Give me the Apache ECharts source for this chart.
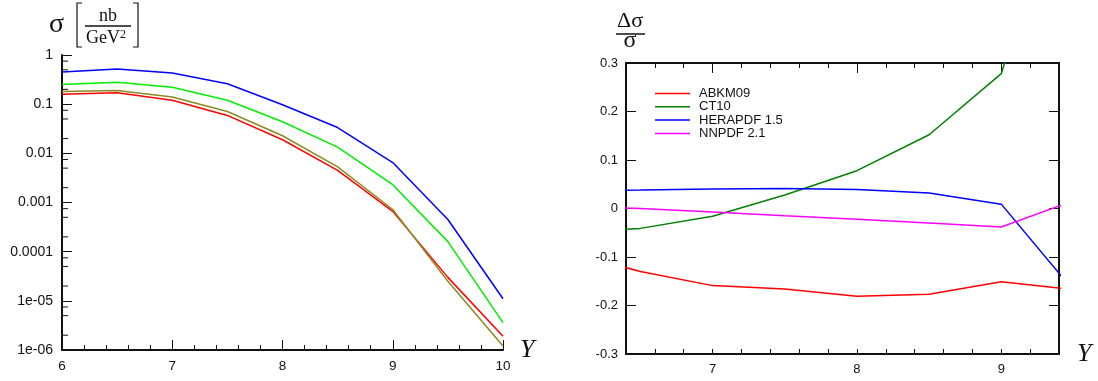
<!DOCTYPE html>
<html>
<head>
<meta charset="utf-8">
<script src="https://cdn.jsdelivr.net/npm/echarts@6/dist/echarts.min.js"></script>
<style>
  html, body { margin: 0; padding: 0; background: #fff; }
  #chart { width: 1098px; height: 381px; }
</style>
</head>
<body>
<div id="chart"></div>
<script>
// left panel: cross section vs rapidity (log scale)
const rapidity = [6, 6.5, 7, 7.5, 8, 8.5, 9, 9.5, 10];
const sigmaBlue = [0.45, 0.52, 0.43, 0.26, 0.097, 0.0335, 0.0065, 0.00045, 1.1e-5];
const sigmaGreen = [0.25, 0.28, 0.22, 0.12, 0.044, 0.0134, 0.0023, 0.00016, 3.6e-6];
const sigmaOlive = [0.18, 0.19, 0.14, 0.071, 0.0228, 0.0053, 0.00072, 2.5e-5, 1.2e-6];
const sigmaRed = [0.16, 0.17, 0.12, 0.059, 0.0189, 0.0045, 0.00066, 3.0e-5, 1.9e-6];
const logLabels = ["1", "0.1", "0.01", "0.001", "0.0001", "1e-05", "1e-06"];
const logMinorSteps = [2, 5, 7.5];

// right panel: relative deviation
const ratioRapidity = [6, 6.5, 7, 7.5, 8, 8.5, 9, 9.5];
const ratioABKM = [-0.09, -0.130, -0.159, -0.166, -0.181, -0.177, -0.151, -0.167];
const ratioCT10 = [-0.05, -0.041, -0.016, 0.028, 0.078, 0.152, 0.278, 0.75];
const ratioHERA = [0.037, 0.038, 0.040, 0.041, 0.039, 0.032, 0.009, -0.169];
const ratioNNPDF = [0.004, 0.000, -0.007, -0.015, -0.022, -0.030, -0.038, 0.016];
const ratioNames = ["ABKM09", "CT10", "HERAPDF 1.5", "NNPDF 2.1"];
const majorRatioTicks = [7, 8, 9];

const font = "Liberation Sans";
const serif = "Liberation Serif";
const ink = "#111";

const zip = (xs, ys) => xs.map((x, i) => [x, ys[i]]);

const logMinorTicks = [];
for (let e = -6; e < 0; e++) {
  logMinorSteps.forEach((m) => logMinorTicks.push([6, m * Math.pow(10, e)]));
}

const axisLine = { show: true, onZero: false, lineStyle: { color: ink, width: 2 } };
const noLine = { show: false, onZero: false };

const lineSeries = (name, xs, ys, color, xi, yi) => ({
  name,
  type: "line",
  xAxisIndex: xi,
  yAxisIndex: yi,
  data: zip(xs, ys),
  showSymbol: false,
  lineStyle: { color, width: 1.5 },
  itemStyle: { color },
  z: 3,
});

const chart = echarts.init(document.getElementById("chart"));

chart.setOption({
  animation: false,
  backgroundColor: "#fff",
  grid: [
    { left: 62, top: 55, width: 441, height: 295 },
    { left: 626, top: 63, width: 433, height: 291 },
  ],
  xAxis: [
    {
      gridIndex: 0,
      type: "value",
      min: 6,
      max: 10,
      interval: 1,
      axisLine,
      axisTick: { inside: true, length: 10, lineStyle: { color: ink, width: 1 } },
      minorTick: { show: true, splitNumber: 5, length: 5, lineStyle: { color: ink, width: 1 } },
      splitLine: { show: false },
      axisLabel: { color: ink, fontFamily: font, fontSize: 13.5, margin: 9 },
      name: "Y",
      nameLocation: "end",
      nameGap: 17,
      nameTextStyle: { fontFamily: serif, fontStyle: "italic", fontSize: 26, color: ink, padding: [0, 0, 4, 0] },
    },
    {
      gridIndex: 1,
      type: "value",
      min: 6.4,
      max: 9.4,
      interval: 0.2,
      axisLine,
      axisTick: { inside: true, length: 5, lineStyle: { color: ink, width: 1 } },
      splitLine: { show: false },
      axisLabel: {
        color: ink,
        fontFamily: font,
        fontSize: 13,
        margin: 9,
        formatter: (v) => (Math.abs(v - Math.round(v)) < 1e-6 ? String(Math.round(v)) : ""),
      },
      name: "Y",
      nameLocation: "end",
      nameGap: 18,
      nameTextStyle: { fontFamily: serif, fontStyle: "italic", fontSize: 26, color: ink, padding: [0, 0, 12, 0] },
    },
    {
      gridIndex: 1,
      type: "value",
      min: 6.4,
      max: 9.4,
      axisLine: noLine,
      axisTick: { inside: true, length: 10, customValues: majorRatioTicks, lineStyle: { color: ink, width: 1 } },
      axisLabel: { show: false },
      splitLine: { show: false },
    },
    {
      gridIndex: 1,
      type: "value",
      position: "top",
      min: 6.4,
      max: 9.4,
      interval: 0.2,
      axisLine,
      axisTick: { inside: true, length: 5, lineStyle: { color: ink, width: 1 } },
      axisLabel: { show: false },
      splitLine: { show: false },
    },
    {
      gridIndex: 1,
      type: "value",
      position: "top",
      min: 6.4,
      max: 9.4,
      axisLine: noLine,
      axisTick: { inside: true, length: 10, customValues: majorRatioTicks, lineStyle: { color: ink, width: 1 } },
      axisLabel: { show: false },
      splitLine: { show: false },
    },
  ],
  yAxis: [
    {
      gridIndex: 0,
      type: "log",
      logBase: 10,
      min: 1e-6,
      max: 1,
      splitNumber: 6,
      axisLine,
      axisTick: { inside: true, length: 10, lineStyle: { color: ink, width: 1 } },
      splitLine: { show: false },
      axisLabel: {
        color: ink,
        fontFamily: font,
        fontSize: 14,
        margin: 9,
        formatter: (v) => logLabels[-Math.round(Math.log10(v))] || "",
      },
    },
    {
      gridIndex: 1,
      type: "value",
      min: -0.3,
      max: 0.3,
      interval: 0.1,
      axisLine,
      axisTick: { inside: true, length: 10, lineStyle: { color: ink, width: 1 } },
      splitLine: { show: false },
      axisLabel: {
        color: ink,
        fontFamily: font,
        fontSize: 13,
        margin: 8,
        formatter: (v) => String(Math.round(v * 10) / 10),
      },
    },
    {
      gridIndex: 1,
      type: "value",
      position: "right",
      min: -0.3,
      max: 0.3,
      interval: 0.1,
      axisLine,
      axisTick: { inside: true, length: 10, lineStyle: { color: ink, width: 1 } },
      splitLine: { show: false },
      axisLabel: { show: false },
    },
  ],
  legend: {
    data: ratioNames,
    orient: "vertical",
    left: 655,
    top: 87,
    padding: 0,
    icon: "rect",
    itemWidth: 35,
    itemHeight: 1.5,
    itemGap: 0.3,
    selectedMode: false,
    textStyle: { fontFamily: font, fontSize: 13, lineHeight: 13, color: ink, padding: [0, 0, 0, 4] },
  },
  graphic: [
    // left title: sigma [nb / GeV^2]
    { type: "text", left: 49, top: 11, style: { text: "σ", font: "28px Liberation Serif", fill: ink } },
    { type: "polyline", shape: { points: [[82, 3], [77, 3], [77, 47], [82, 47]] }, style: { stroke: ink, lineWidth: 1.2, fill: null } },
    { type: "polyline", shape: { points: [[133, 3], [138, 3], [138, 47], [133, 47]] }, style: { stroke: ink, lineWidth: 1.2, fill: null } },
    { type: "text", x: 108, y: 25, style: { text: "nb", font: "18px Liberation Serif", fill: ink, align: "center", verticalAlign: "bottom" } },
    { type: "line", shape: { x1: 85, y1: 26, x2: 131, y2: 26 }, style: { stroke: ink, lineWidth: 1.5 } },
    {
      type: "text",
      x: 86,
      y: 29,
      style: {
        text: "{a|GeV}{b|2}",
        rich: {
          a: { font: "18px Liberation Serif", fill: ink, verticalAlign: "bottom", lineHeight: 18 },
          b: { font: "12px Liberation Serif", fill: ink, verticalAlign: "top", lineHeight: 18, padding: [0, 0, 6, 0] },
        },
      },
    },
    // right title: delta sigma / sigma
    { type: "text", x: 630, y: 32, style: { text: "Δσ", font: "22px Liberation Serif", fill: ink, align: "center", verticalAlign: "bottom" } },
    { type: "line", shape: { x1: 616, y1: 34, x2: 645, y2: 34 }, style: { stroke: ink, lineWidth: 1.5 } },
    { type: "text", x: 630, y: 53, style: { text: "σ", font: "24px Liberation Serif", fill: ink, align: "center", verticalAlign: "bottom" } },
  ],
  series: [
    lineSeries("σ (red)", rapidity, sigmaRed, "#ff0000", 0, 0),
    lineSeries("σ (olive)", rapidity, sigmaOlive, "#8c8a20", 0, 0),
    lineSeries("σ (green)", rapidity, sigmaGreen, "#00ee00", 0, 0),
    lineSeries("σ (blue)", rapidity, sigmaBlue, "#0000ff", 0, 0),
    {
      name: "log minor ticks",
      type: "custom",
      xAxisIndex: 0,
      yAxisIndex: 0,
      data: logMinorTicks,
      silent: true,
      renderItem: (params, api) => {
        const p = api.coord([api.value(0), api.value(1)]);
        return {
          type: "line",
          shape: { x1: p[0], y1: p[1], x2: p[0] + 6, y2: p[1] },
          style: { stroke: ink, lineWidth: 1 },
        };
      },
    },
    lineSeries("ABKM09", ratioRapidity, ratioABKM, "#ff0000", 1, 1),
    lineSeries("CT10", ratioRapidity, ratioCT10, "#008000", 1, 1),
    lineSeries("HERAPDF 1.5", ratioRapidity, ratioHERA, "#0000ff", 1, 1),
    lineSeries("NNPDF 2.1", ratioRapidity, ratioNNPDF, "#ff00ff", 1, 1),
  ],
});
</script>
</body>
</html>
